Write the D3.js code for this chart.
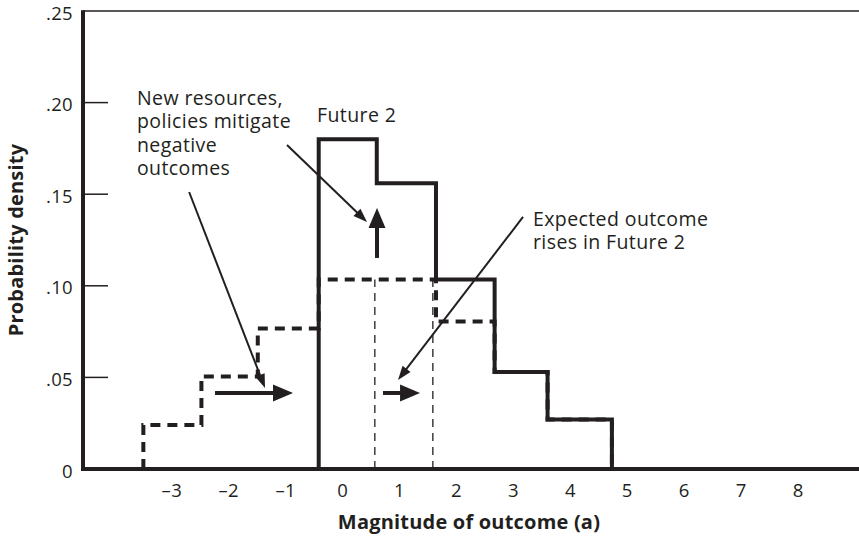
<!DOCTYPE html>
<html>
<head>
<meta charset="utf-8">
<script src="https://cdn.jsdelivr.net/npm/d3@7"></script>
<style>
  body { margin: 0; background: #fff; }
  text { font-family: "Open Sans", sans-serif; fill: #231f20; }
</style>
</head>
<body>
<svg id="chart" width="859" height="540"></svg>
<script>
    // bin edges of both histograms (outcome units)
    const binEdges = [-3.5, -2.48, -1.49, -0.42, 0.6, 1.64, 2.67, 3.6, 4.73]
    // Future 1 (dashed), one value per bin starting at binEdges[0]
    const future1 = [0.024, 0.0505, 0.0767, 0.1035, 0.1035, 0.0805, 0.053, 0.027]
    // Future 2 (solid), starts at binEdges[3]
    const future2Start = 3
    const future2 = [0.180, 0.156, 0.1035, 0.053, 0.027]
    // expected outcomes, Future 1 and Future 2
    const expected = [0.566, 1.585]
    const expectedTop = 0.1035

    const xTicks = [-3, -2, -1, 0, 1, 2, 3, 4, 5, 6, 7, 8]
    const yTicks = [0, 0.05, 0.10, 0.15, 0.20, 0.25]
    const yTickLabels = ["0", ".05", ".10", ".15", ".20", ".25"]

    // annotation arrows, [x0, y0, x1, y1] in data units
    const boldArrows = [
        [0.604, 0.1152, 0.604, 0.1425],
        [-2.241, 0.0415, -0.871, 0.0415],
        [0.709, 0.0415, 1.36, 0.0415]
    ]
    const pointers = [
        [-0.977, 0.1769, 0.429, 0.1348],
        [-2.696, 0.1512, -1.363, 0.0442],
        [3.169, 0.1376, 0.973, 0.0486]
    ]
    const notes = [
        { x: -3.612, y: 0.1987, lines: ["New resources,", "policies mitigate", "negative", "outcomes"] },
        { x: -0.45, y: 0.1894, lines: ["Future 2"] },
        { x: 3.344, y: 0.1326, lines: ["Expected outcome", "rises in Future 2"] }
    ]

    const svg = d3.select("#chart")
    const ink = "#231f20"

    const x = d3.scaleLinear().domain([-4.56, 9.07]).range([83, 859])
    const y = d3.scaleLinear().domain([0, 0.25]).range([469, 11])
    const [left, right] = x.range()

    // turns bins into a closed step outline
    function steps(edges, values) {
        let pts = [[edges[0], 0]]
        values.forEach((v, i) => {
            pts.push([edges[i], v])
            pts.push([edges[i + 1], v])
        })
        pts.push([edges[values.length], 0])
        return pts
    }

    const line = d3.line()
        .x(d => x(d[0]))
        .y(d => y(d[1]))

    // frame: thin top line, thick left and bottom axes
    svg.append("line")
        .attr("x1", left).attr("x2", right)
        .attr("y1", y(0.25)).attr("y2", y(0.25))
        .attr("stroke", ink).attr("stroke-width", 1.5)

    // y ticks sit inside the plot
    svg.append("g")
        .selectAll("line")
        .data(yTicks.filter(d => d > 0 && d < 0.25))
        .enter()
        .append("line")
        .attr("x1", left).attr("x2", left + 25)
        .attr("y1", d => y(d)).attr("y2", d => y(d))
        .attr("stroke", ink).attr("stroke-width", 1.5)

    svg.append("g")
        .selectAll("text")
        .data(yTicks)
        .enter()
        .append("text")
        .attr("x", left - 10)
        .attr("y", d => y(d) + 8.5)
        .attr("text-anchor", "end")
        .attr("font-size", 18.5)
        .attr("letter-spacing", 0.3)
        .text((d, i) => yTickLabels[i])

    svg.append("g")
        .selectAll("text")
        .data(xTicks)
        .enter()
        .append("text")
        .attr("x", d => x(d))
        .attr("y", y(0) + 28)
        .attr("text-anchor", "middle")
        .attr("font-size", 18.5)
        .attr("letter-spacing", 0.3)
        .text(d => d < 0 ? "\u2013" + Math.abs(d) : d)

    svg.append("text")
        .attr("x", 469)
        .attr("y", 529)
        .attr("text-anchor", "middle")
        .attr("font-size", 20)
        .attr("font-weight", "bold")
        .attr("letter-spacing", 0.2)
        .text("Magnitude of outcome (a)")

    svg.append("text")
        .attr("transform", "translate(23," + y(0.125) + ") rotate(-90)")
        .attr("text-anchor", "middle")
        .attr("font-size", 20)
        .attr("font-weight", "bold")
        .attr("letter-spacing", 0.2)
        .text("Probability density")

    // expected outcome markers
    svg.append("g")
        .selectAll("line")
        .data(expected)
        .enter()
        .append("line")
        .attr("x1", d => x(d)).attr("x2", d => x(d))
        .attr("y1", y(0)).attr("y2", y(expectedTop))
        .attr("stroke", ink)
        .attr("stroke-width", 1.3)
        .attr("stroke-dasharray", "8,6")

    // Future 1, dashed
    svg.append("path")
        .datum(steps(binEdges, future1))
        .attr("fill", "none")
        .attr("stroke", ink)
        .attr("stroke-width", 4)
        .attr("stroke-dasharray", "10,7")
        .attr("d", line)

    // Future 2, solid
    svg.append("path")
        .datum(steps(binEdges.slice(future2Start), future2))
        .attr("fill", "none")
        .attr("stroke", ink)
        .attr("stroke-width", 4)
        .attr("stroke-linejoin", "miter")
        .attr("d", line)

    svg.append("line")
        .attr("x1", left).attr("x2", left)
        .attr("y1", y(0.25) - 0.75).attr("y2", y(0) + 2)
        .attr("stroke", ink).attr("stroke-width", 4)

    svg.append("line")
        .attr("x1", left - 2).attr("x2", right)
        .attr("y1", y(0)).attr("y2", y(0))
        .attr("stroke", ink).attr("stroke-width", 4)

    // arrow with a filled head at its end
    function arrow(g, a, width, headLen, headHalf) {
        let x0 = x(a[0]), y0 = y(a[1]), x1 = x(a[2]), y1 = y(a[3])
        let ang = Math.atan2(y1 - y0, x1 - x0)
        let bx = x1 - headLen * Math.cos(ang), by = y1 - headLen * Math.sin(ang)
        g.append("line")
            .attr("x1", x0).attr("y1", y0)
            .attr("x2", bx + 2 * Math.cos(ang)).attr("y2", by + 2 * Math.sin(ang))
            .attr("stroke", ink).attr("stroke-width", width)
        let px = -Math.sin(ang) * headHalf, py = Math.cos(ang) * headHalf
        g.append("path")
            .attr("d", d3.line()([[x1, y1], [bx + px, by + py], [bx - px, by - py]]) + "Z")
            .attr("fill", ink)
    }

    const arrows = svg.append("g")
    boldArrows.forEach(a => arrow(arrows, a, 4, 20, 8.5))
    pointers.forEach(a => arrow(arrows, a, 2, 14, 5))

    // callout texts
    notes.forEach(n => {
        let t = svg.append("text")
            .attr("x", x(n.x))
            .attr("y", y(n.y))
            .attr("font-size", 19.5)
            .attr("letter-spacing", 0.4)
        n.lines.forEach((s, i) => {
            t.append("tspan")
                .attr("x", x(n.x))
                .attr("dy", i == 0 ? 0 : 23.3)
                .text(s)
        })
    })
</script>
</body>
</html>
